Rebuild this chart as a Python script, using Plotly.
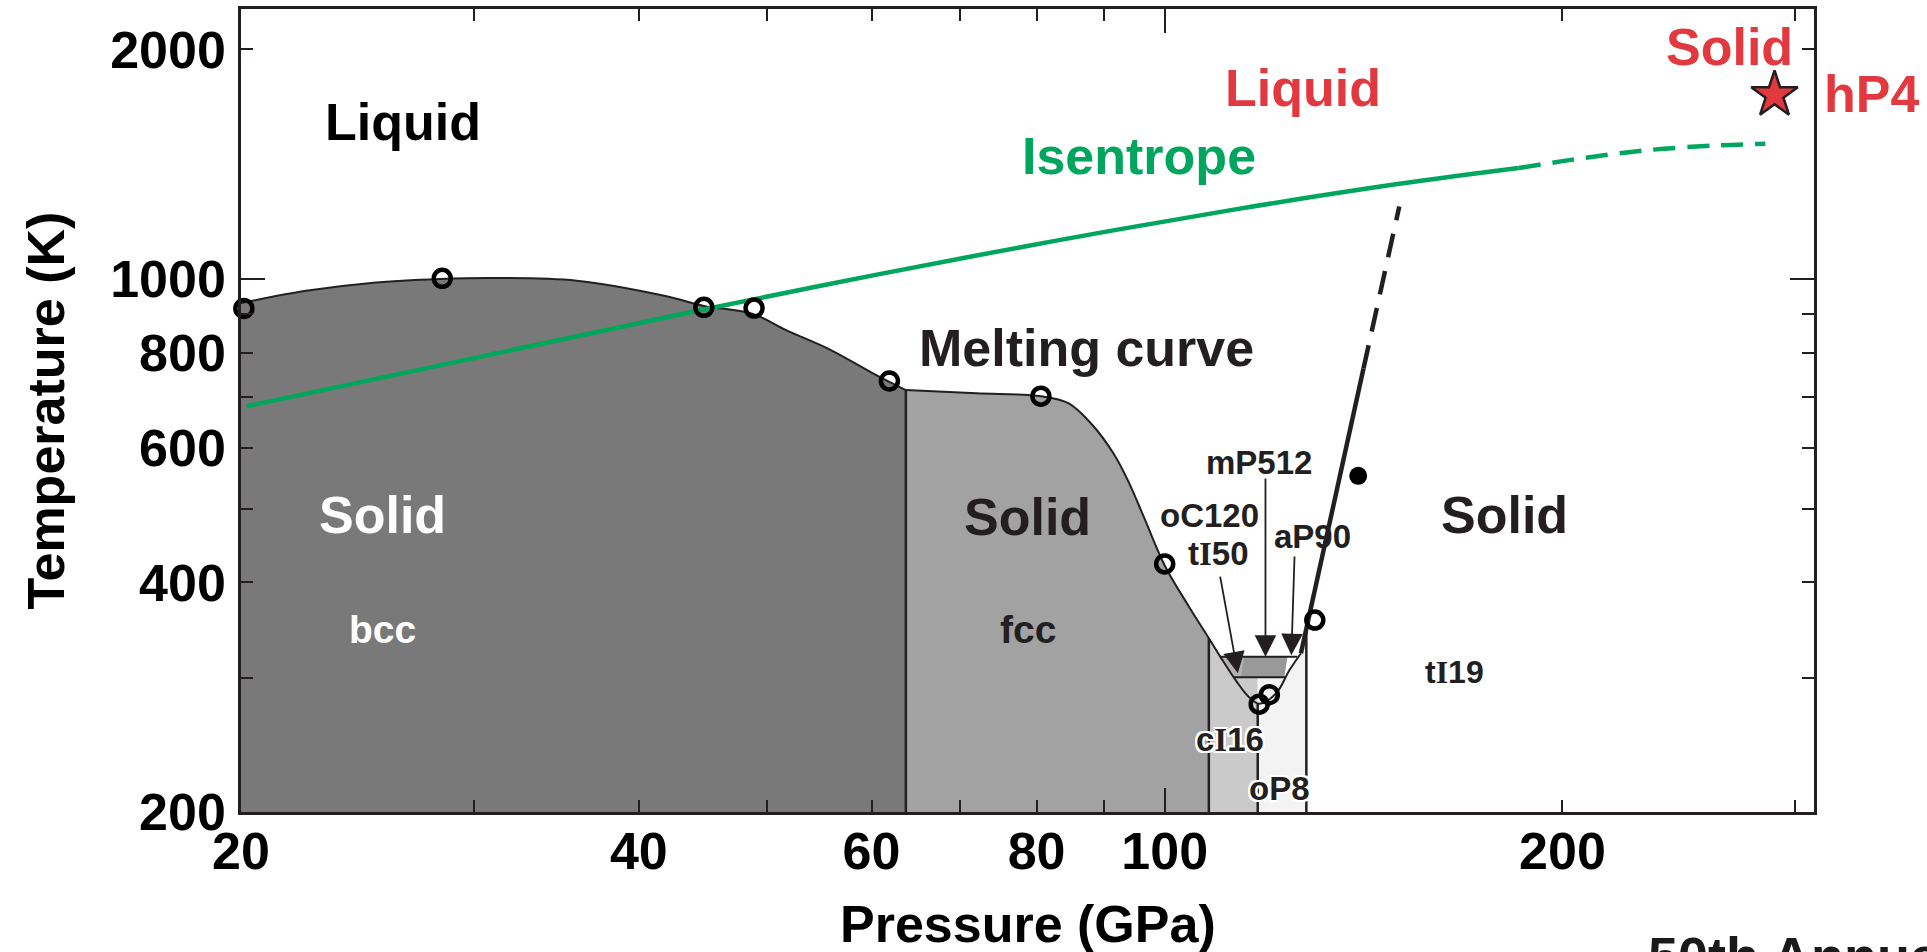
import math
import plotly.graph_objects as go

# ---------------- axes ----------------
x_range = [20, 310]
y_range = [200, 2260]
x_tickvals = [20, 30, 40, 50, 60, 70, 80, 90, 100, 200, 300]
x_ticktext = ["20", "", "40", "", "60", "", "80", "", "100", "200", ""]
y_tickvals = [200, 300, 400, 500, 600, 700, 800, 900, 1000, 2000]
y_ticktext = ["200", "", "400", "", "600", "", "800", "", "1000", "2000"]
x_decade = [100]
y_decade = [1000]

# ---------------- melting curve (P in GPa, T in K) ----------------
melt_P = [20, 22.4, 25.2, 28.3, 31, 35.9, 41.9, 44.8, 48.8, 51.7, 55.9, 60.5, 63.7,
          72, 80.6, 84.6, 88.0, 91.5, 94.0, 96.5, 100, 104.3, 108.0,
          110.2, 113.2, 115.8, 117.9, 121.4, 124.3, 126.8]
melt_T = [930, 965, 989, 1000, 1003, 995, 950, 922, 900, 857, 807, 748, 715,
          708, 702, 687, 646, 590, 540, 486, 421, 372, 338,
          319.5, 297.6, 283, 277.4, 286, 307, 323]

# steep high-pressure melting line (tI19 boundary)
steep_P = [126.8, 141.4]
steep_T = [323, 763]
steep_dash_P = [141.4, 150.5]
steep_dash_T = [763, 1245]

# phase boundaries (vertical lines)
bcc_fcc_P = 63.7
fcc_cI16_P = 108.0
cI16_oP8_P = 117.6
oP8_tI19_P = 128.0
boundary_top_T = {"bcc_fcc": 715, "fcc_cI16": 338, "cI16_oP8": 277.4, "oP8_tI19": 348}
T_floor = 200

# metastable band inside the melting-curve minimum
band_top_T = 319.5
band_bot_T = 300.5
band_top_P = [110.2, 114.8, 123.9, 126.0]   # left edge, tI50|mP512, mP512|aP90, right edge
band_bot_P = [112.8, 114.2, 123.2, 123.5]

# isentrope
isen_P = [20.2, 44.5, 60.7, 82.8, 113.1, 150.5, 185.3]
isen_T = [681, 910, 1014, 1123, 1234, 1333, 1398]
isen_dash_P = [185.3, 203, 230.3, 262, 284.8]
isen_dash_T = [1398, 1433, 1474, 1497, 1504]

# experimental points
open_P = [20.1, 28.4, 44.8, 48.9, 61.9, 80.6, 100, 117.9, 120.0, 129.9]
open_T = [915, 1002, 918, 916, 735, 702, 423, 277, 285, 357]
filled_P = [140.1]
filled_T = [552]
star_P = [289.4]
star_T = [1744]

# ---------------- styles ----------------
FONT = "Liberation Sans"
SERIF = "Liberation Serif"
INK = "#231f20"
GREEN = "#00a65e"
RED = "#e2383f"
C_BCC = "#797979"
C_FCC = "#a2a2a2"
C_CI16 = "#cacaca"
C_OP8 = "#f3f3f3"
C_TI50 = "#b2b2b2"
C_MP512 = "#999999"

fig = go.Figure()


def poly(xs, ys, color):
    fig.add_trace(go.Scatter(x=xs, y=ys, mode="lines", fill="toself", fillcolor=color,
                             line=dict(width=0, color=color), hoverinfo="skip",
                             showlegend=False))


def line(xs, ys, color, width, dash="solid", shape="linear"):
    fig.add_trace(go.Scatter(x=xs, y=ys, mode="lines",
                             line=dict(color=color, width=width, dash=dash, shape=shape, smoothing=1.0),
                             hoverinfo="skip", showlegend=False))


def fill_under(xs, ys, color):
    # invisible floor, then the spline curve filled down to it
    fig.add_trace(go.Scatter(x=[xs[0], xs[-1]], y=[T_floor, T_floor], mode="lines",
                             line=dict(width=0, color=color), hoverinfo="skip", showlegend=False))
    fig.add_trace(go.Scatter(x=xs, y=ys, mode="lines", fill="tonexty", fillcolor=color,
                             line=dict(width=0, color=color, shape="spline", smoothing=1.0),
                             hoverinfo="skip", showlegend=False))


i_bcc = melt_P.index(bcc_fcc_P)
i_fcc = melt_P.index(fcc_cI16_P)

# region fills
fill_under(melt_P[:i_bcc + 1], melt_T[:i_bcc + 1], C_BCC)
fill_under(melt_P[i_bcc:i_fcc + 1], melt_T[i_bcc:i_fcc + 1], C_FCC)
poly([fcc_cI16_P, fcc_cI16_P, band_top_P[0], cI16_oP8_P, cI16_oP8_P],
     [T_floor, melt_T[i_fcc], band_top_T, band_top_T, T_floor], C_CI16)
poly([cI16_oP8_P, cI16_oP8_P, band_top_P[3], steep_P[0], oP8_tI19_P, oP8_tI19_P],
     [T_floor, band_top_T, band_top_T, steep_T[0], boundary_top_T["oP8_tI19"], T_floor], C_OP8)
# band segments
poly([band_top_P[0], band_top_P[1], band_bot_P[1], band_bot_P[0]],
     [band_top_T, band_top_T, band_bot_T, band_bot_T], C_TI50)
poly([band_top_P[1], band_top_P[2], band_bot_P[2], band_bot_P[1]],
     [band_top_T, band_top_T, band_bot_T, band_bot_T], C_MP512)
poly([band_top_P[2], band_top_P[3], band_bot_P[3], band_bot_P[2]],
     [band_top_T, band_top_T, band_bot_T, band_bot_T], "white")
line([band_top_P[0], band_top_P[3]], [band_top_T, band_top_T], INK, 2)
line([band_bot_P[0], band_bot_P[3]], [band_bot_T, band_bot_T], INK, 2)

# vertical phase boundaries
line([bcc_fcc_P, bcc_fcc_P], [T_floor, boundary_top_T["bcc_fcc"]], INK, 2.5)
line([fcc_cI16_P, fcc_cI16_P], [T_floor, boundary_top_T["fcc_cI16"]], INK, 2.5)
line([cI16_oP8_P, cI16_oP8_P], [T_floor, boundary_top_T["cI16_oP8"]], INK, 2.5)
line([oP8_tI19_P, oP8_tI19_P], [T_floor, boundary_top_T["oP8_tI19"]], INK, 2.5)

# melting curves
line(melt_P[:i_bcc + 1], melt_T[:i_bcc + 1], INK, 2, shape="spline")
line(melt_P[i_bcc:], melt_T[i_bcc:], INK, 2, shape="spline")
line(steep_P, steep_T, INK, 4.5)
line(steep_dash_P, steep_dash_T, INK, 4.5, dash="24px,14px")

# isentrope
line(isen_P, isen_T, GREEN, 4.5, shape="spline")
line(isen_dash_P, isen_dash_T, GREEN, 4.5, dash="22px,12px", shape="spline")

# points
fig.add_trace(go.Scatter(x=open_P, y=open_T, mode="markers", cliponaxis=False,
                         marker=dict(symbol="circle-open", size=17, color="black", line=dict(width=4.5, color="black")),
                         hoverinfo="skip", showlegend=False))
fig.add_trace(go.Scatter(x=filled_P, y=filled_T, mode="markers", cliponaxis=False,
                         marker=dict(symbol="circle", size=18, color="black"),
                         hoverinfo="skip", showlegend=False))
fig.add_trace(go.Scatter(x=star_P, y=star_T, mode="markers", cliponaxis=False,
                         marker=dict(symbol="star", size=35, color=RED, line=dict(width=2.5, color=INK)),
                         hoverinfo="skip", showlegend=False))

# overlay axes carrying the longer decade ticks
fig.add_trace(go.Scatter(x=[], y=[], xaxis="x2", yaxis="y2", showlegend=False, hoverinfo="skip"))

# ---------------- text ----------------
L = math.log10


def label(text, P, T, color, size, halo=False):
    f = dict(family=FONT, size=size, color=color, weight="bold")
    if halo:
        f["shadow"] = "2px 2px 0 #fff, -2px -2px 0 #fff, 2px -2px 0 #fff, -2px 2px 0 #fff, 0 2px 0 #fff, 0 -2px 0 #fff, 2px 0 0 #fff, -2px 0 0 #fff"
    fig.add_annotation(x=L(P), y=L(T), xref="x", yref="y", text=text, showarrow=False,
                       font=f, xanchor="center", yanchor="middle")


def serifI(a, b):
    return a + "<span style='font-family:" + SERIF + "'>I</span>" + b


label("Liquid", 26.5, 1605, "black", 52)
label("Liquid", 127.3, 1780, RED, 52)
label("Solid", 267.5, 2013, RED, 52)
label("Isentrope", 95.7, 1449, GREEN, 52)
label("Melting curve", 87.3, 811, INK, 52)
label("Solid", 25.6, 490, "white", 52)
label("bcc", 25.6, 346.6, "white", 39)
label("Solid", 78.8, 488, INK, 52)
label("fcc", 78.8, 347.5, INK, 39)
label("Solid", 180.9, 490, INK, 52)
label(serifI("t", "19"), 165.6, 305.4, INK, 32)
label("mP512", 117.8, 575, INK, 33)
label("oC120", 108.1, 490, INK, 33)
label(serifI("t", "50"), 109.9, 436, INK, 33)
label("aP90", 129.3, 460, INK, 33)
label(serifI("c", "16"), 112, 249, INK, 33, halo=True)
label("oP8", 122.2, 215, INK, 33, halo=True)

fig.add_annotation(x=1.0364, y=0.8942, xref="paper", yref="paper", text="hP4", showarrow=False,
                   font=dict(family=FONT, size=52, color=RED, weight="bold"), xanchor="center", yanchor="middle")

# arrows (head, tail)
arrows = [((113.6, 304), (110.1, 409)),
          ((119.2, 319.5), (119.2, 550)),
          ((124.7, 321), (125.4, 434.5))]
for (hp, ht), (tp, tt) in arrows:
    fig.add_annotation(x=L(hp), y=L(ht), ax=L(tp), ay=L(tt), xref="x", yref="y", axref="x", ayref="y",
                       text="", showarrow=True, arrowhead=2, arrowsize=2.4, arrowwidth=1.8,
                       arrowcolor=INK, standoff=0)

# axis titles
fig.add_annotation(x=0.5, y=-0.1390, xref="paper", yref="paper", text="Pressure (GPa)", showarrow=False,
                   font=dict(family=FONT, size=52, color="black", weight="bold"), xanchor="center", yanchor="middle")
fig.add_annotation(x=-0.1240, y=0.5, xref="paper", yref="paper", text="Temperature (K)", showarrow=False,
                   textangle=-90, font=dict(family=FONT, size=52, color="black", weight="bold"),
                   xanchor="center", yanchor="middle")
fig.add_annotation(x=0.8935, y=-0.1798, xref="paper", yref="paper", text="50th Annual Meeting", showarrow=False,
                   font=dict(family=FONT, size=54, color="#1a1a1a", weight="bold"), xanchor="left", yanchor="middle")

tickfont = dict(family=FONT, size=52, color="black", weight="bold")
common = dict(type="log", ticks="inside", tickwidth=2, tickcolor=INK, showgrid=False, zeroline=False)
fig.update_layout(
    width=1927, height=952,
    margin=dict(l=241, r=112.5, t=9.3, b=140.3, autoexpand=False),
    paper_bgcolor="white", plot_bgcolor="white", showlegend=False,
    xaxis=dict(range=[L(x_range[0]), L(x_range[1])], tickmode="array", tickvals=x_tickvals, ticktext=x_ticktext,
               ticklen=12, showline=True, linewidth=2.5, linecolor=INK, mirror="ticks", tickfont=tickfont,
               ticklabelstandoff=-8, **common),
    yaxis=dict(range=[L(y_range[0]), L(y_range[1])], tickmode="array", tickvals=y_tickvals, ticktext=y_ticktext,
               ticklen=12, showline=True, linewidth=2.5, linecolor=INK, mirror="ticks", tickfont=tickfont,
               ticklabelstandoff=2, **common),
    xaxis2=dict(range=[L(x_range[0]), L(x_range[1])], tickmode="array", tickvals=x_decade, ticktext=[""],
                ticklen=24, overlaying="x", anchor="y2", mirror="ticks", showline=False, showticklabels=False, **common),
    yaxis2=dict(range=[L(y_range[0]), L(y_range[1])], tickmode="array", tickvals=y_decade, ticktext=[""],
                ticklen=24, overlaying="y", anchor="x2", mirror="ticks", showline=False, showticklabels=False, **common),
)

fig.write_html("out.html", config={"displayModeBar": False},
               post_script="document.body.style.margin='0';document.body.style.overflow='hidden';")
